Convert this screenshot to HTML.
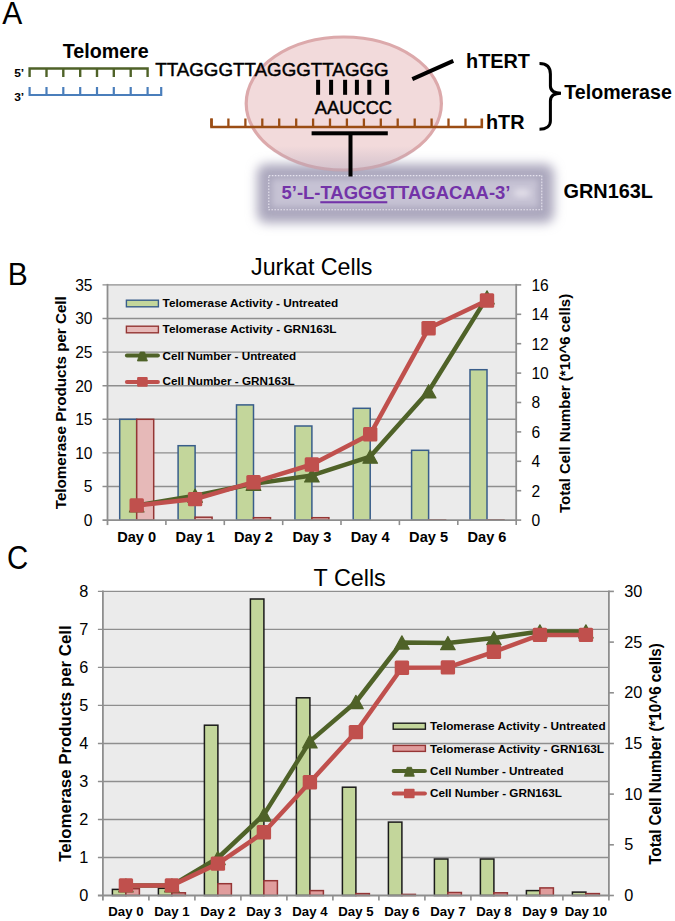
<!DOCTYPE html><html><head><meta charset="utf-8"><style>html,body{margin:0;padding:0;background:#fff;}svg{display:block;}</style></head><body>
<svg width="675" height="921" viewBox="0 0 675 921" font-family='"Liberation Sans", sans-serif'>
<rect width="675" height="921" fill="#fff"/>
<text transform="translate(2.2,24.0) scale(1,1.06)" font-size="30">A</text>
<text x="62.7" y="58.0" font-size="19.5" font-weight="bold" text-anchor="start" fill="#000" textLength="86.0" lengthAdjust="spacingAndGlyphs">Telomere</text>
<text x="14.2" y="76.8" font-size="11" font-weight="bold" text-anchor="start" fill="#000" textLength="10.0" lengthAdjust="spacingAndGlyphs">5’</text>
<text x="14.2" y="100.6" font-size="11" font-weight="bold" text-anchor="start" fill="#000" textLength="10.0" lengthAdjust="spacingAndGlyphs">3’</text>
<path d="M29.6,77 V68.5 H147.6 V77" fill="none" stroke="#4f6228" stroke-width="2.4"/>
<line x1="46.5" y1="68.5" x2="46.5" y2="77" stroke="#4f6228" stroke-width="2.4"/>
<line x1="63.3" y1="68.5" x2="63.3" y2="77" stroke="#4f6228" stroke-width="2.4"/>
<line x1="80.2" y1="68.5" x2="80.2" y2="77" stroke="#4f6228" stroke-width="2.4"/>
<line x1="97.0" y1="68.5" x2="97.0" y2="77" stroke="#4f6228" stroke-width="2.4"/>
<line x1="113.8" y1="68.5" x2="113.8" y2="77" stroke="#4f6228" stroke-width="2.4"/>
<line x1="130.7" y1="68.5" x2="130.7" y2="77" stroke="#4f6228" stroke-width="2.4"/>
<path d="M29.6,87 V95 H161.2 V87" fill="none" stroke="#4a7ebb" stroke-width="2.2"/>
<line x1="46.5" y1="87" x2="46.5" y2="95" stroke="#4a7ebb" stroke-width="2.2"/>
<line x1="63.3" y1="87" x2="63.3" y2="95" stroke="#4a7ebb" stroke-width="2.2"/>
<line x1="80.2" y1="87" x2="80.2" y2="95" stroke="#4a7ebb" stroke-width="2.2"/>
<line x1="97.0" y1="87" x2="97.0" y2="95" stroke="#4a7ebb" stroke-width="2.2"/>
<line x1="113.8" y1="87" x2="113.8" y2="95" stroke="#4a7ebb" stroke-width="2.2"/>
<line x1="130.7" y1="87" x2="130.7" y2="95" stroke="#4a7ebb" stroke-width="2.2"/>
<line x1="147.6" y1="87" x2="147.6" y2="95" stroke="#4a7ebb" stroke-width="2.2"/>
<defs><filter id="blur" x="-20%" y="-50%" width="140%" height="200%"><feGaussianBlur stdDeviation="5.2"/></filter><filter id="blur2" x="-20%" y="-50%" width="140%" height="200%"><feGaussianBlur stdDeviation="3"/></filter></defs>
<rect x="257" y="164" width="297" height="59" rx="9" fill="#aba7bd" filter="url(#blur)"/>
<rect x="272" y="179" width="266" height="28" fill="#c6c2d4" filter="url(#blur2)"/>
<ellipse cx="522" cy="193" rx="9" ry="4" fill="#eeebf2" opacity="0.75" filter="url(#blur2)"/>
<rect x="268.8" y="175.6" width="273" height="34.2" fill="none" stroke="#e6e3ee" stroke-width="1.1" stroke-dasharray="1.6,1.4"/>
<ellipse cx="343.8" cy="103.5" rx="97.6" ry="66.5" fill="#f2dadb" stroke="#dca9ab" stroke-width="3.2"/>
<clipPath id="ec"><ellipse cx="343.8" cy="103.5" rx="99.5" ry="68.5"/></clipPath>
<linearGradient id="eg" x1="0" y1="0" x2="0" y2="1"><stop offset="0" stop-color="#a8a0b8" stop-opacity="0"/><stop offset="1" stop-color="#a8a0b8" stop-opacity="0.45"/></linearGradient>
<rect x="240" y="146" width="210" height="26" fill="url(#eg)" clip-path="url(#ec)"/>
<text x="155.2" y="75.6" font-size="18.6" text-anchor="start" fill="#000" textLength="233.5" lengthAdjust="spacingAndGlyphs" stroke="#000" stroke-width="0.45">TTAGGGTTAGGGTTAGGG</text>
<rect x="316.1" y="79.8" width="4" height="15" fill="#000"/>
<rect x="329.1" y="79.8" width="4" height="15" fill="#000"/>
<rect x="343.1" y="79.8" width="4" height="15" fill="#000"/>
<rect x="354.9" y="79.8" width="4" height="15" fill="#000"/>
<rect x="367.3" y="79.8" width="4" height="15" fill="#000"/>
<rect x="385.1" y="79.8" width="4" height="15" fill="#000"/>
<text x="314.8" y="113.6" font-size="18.4" text-anchor="start" fill="#000" textLength="77.3" lengthAdjust="spacingAndGlyphs" stroke="#000" stroke-width="0.45">AAUCCC</text>
<path d="M211.5,118.5 V127 H481.8 V118.5" fill="none" stroke="#9b4d14" stroke-width="2.6"/>
<line x1="211.5" y1="118.5" x2="211.5" y2="127" stroke="#9b4d14" stroke-width="2.3"/>
<line x1="228.4" y1="118.5" x2="228.4" y2="127" stroke="#9b4d14" stroke-width="2.3"/>
<line x1="245.4" y1="118.5" x2="245.4" y2="127" stroke="#9b4d14" stroke-width="2.3"/>
<line x1="262.3" y1="118.5" x2="262.3" y2="127" stroke="#9b4d14" stroke-width="2.3"/>
<line x1="279.2" y1="118.5" x2="279.2" y2="127" stroke="#9b4d14" stroke-width="2.3"/>
<line x1="296.2" y1="118.5" x2="296.2" y2="127" stroke="#9b4d14" stroke-width="2.3"/>
<line x1="313.1" y1="118.5" x2="313.1" y2="127" stroke="#9b4d14" stroke-width="2.3"/>
<line x1="330.0" y1="118.5" x2="330.0" y2="127" stroke="#9b4d14" stroke-width="2.3"/>
<line x1="346.9" y1="118.5" x2="346.9" y2="127" stroke="#9b4d14" stroke-width="2.3"/>
<line x1="363.9" y1="118.5" x2="363.9" y2="127" stroke="#9b4d14" stroke-width="2.3"/>
<line x1="380.8" y1="118.5" x2="380.8" y2="127" stroke="#9b4d14" stroke-width="2.3"/>
<line x1="397.7" y1="118.5" x2="397.7" y2="127" stroke="#9b4d14" stroke-width="2.3"/>
<line x1="414.7" y1="118.5" x2="414.7" y2="127" stroke="#9b4d14" stroke-width="2.3"/>
<line x1="431.6" y1="118.5" x2="431.6" y2="127" stroke="#9b4d14" stroke-width="2.3"/>
<line x1="448.5" y1="118.5" x2="448.5" y2="127" stroke="#9b4d14" stroke-width="2.3"/>
<line x1="465.5" y1="118.5" x2="465.5" y2="127" stroke="#9b4d14" stroke-width="2.3"/>
<rect x="311.6" y="131.3" width="76.2" height="4" fill="#000"/>
<rect x="348.5" y="133" width="4" height="43.5" fill="#000"/>
<line x1="412.3" y1="79.1" x2="453.3" y2="60.9" stroke="#000" stroke-width="4"/>
<text x="466.0" y="68.0" font-size="19.5" font-weight="bold" text-anchor="start" fill="#000" textLength="64.0" lengthAdjust="spacingAndGlyphs">hTERT</text>
<text x="486.0" y="128.9" font-size="19.5" font-weight="bold" text-anchor="start" fill="#000" textLength="38.5" lengthAdjust="spacingAndGlyphs">hTR</text>
<path d="M539.5,63.5 C546,63.5 550.4,66 550.4,74 L550.4,86 C550.4,91 554,93.2 561,93.2 C554,93.2 550.4,96 550.4,101 L550.4,121 C550.4,126 546,129.2 539.5,129.2" fill="none" stroke="#000" stroke-width="3"/>
<text x="564.3" y="99.2" font-size="19.5" font-weight="bold" text-anchor="start" fill="#000" textLength="107.5" lengthAdjust="spacingAndGlyphs">Telomerase</text>
<text x="281.5" y="199.4" font-size="18.4" font-weight="bold" text-anchor="start" fill="#7333a8" textLength="229.0" lengthAdjust="spacingAndGlyphs">5’-L-TAGGGTTAGACAA-3’</text>
<rect x="320.3" y="201.2" width="67" height="2.1" fill="#7333a8"/>
<text x="563.5" y="198.0" font-size="20" font-weight="bold" text-anchor="start" fill="#000" textLength="89.5" lengthAdjust="spacingAndGlyphs">GRN163L</text>
<text transform="translate(7.8,285.3) scale(1,1.045)" font-size="30">B</text>
<rect x="107.5" y="284.9" width="408.70000000000005" height="235.20000000000005" fill="#ebebeb"/>
<line x1="102.5" y1="486.5" x2="516.2" y2="486.5" stroke="#8e8e8e" stroke-width="1.4"/>
<line x1="102.5" y1="452.9" x2="516.2" y2="452.9" stroke="#8e8e8e" stroke-width="1.4"/>
<line x1="102.5" y1="419.3" x2="516.2" y2="419.3" stroke="#8e8e8e" stroke-width="1.4"/>
<line x1="102.5" y1="385.7" x2="516.2" y2="385.7" stroke="#8e8e8e" stroke-width="1.4"/>
<line x1="102.5" y1="352.1" x2="516.2" y2="352.1" stroke="#8e8e8e" stroke-width="1.4"/>
<line x1="102.5" y1="318.5" x2="516.2" y2="318.5" stroke="#8e8e8e" stroke-width="1.4"/>
<line x1="102.5" y1="284.9" x2="516.2" y2="284.9" stroke="#8e8e8e" stroke-width="1.4"/>
<line x1="107.5" y1="283.9" x2="107.5" y2="525.1" stroke="#8e8e8e" stroke-width="1.8"/>
<line x1="516.2" y1="283.9" x2="516.2" y2="521.1" stroke="#8e8e8e" stroke-width="1.8"/>
<line x1="165.9" y1="520.1" x2="165.9" y2="525.1" stroke="#8e8e8e" stroke-width="1.6"/>
<line x1="224.3" y1="520.1" x2="224.3" y2="525.1" stroke="#8e8e8e" stroke-width="1.6"/>
<line x1="282.7" y1="520.1" x2="282.7" y2="525.1" stroke="#8e8e8e" stroke-width="1.6"/>
<line x1="341.0" y1="520.1" x2="341.0" y2="525.1" stroke="#8e8e8e" stroke-width="1.6"/>
<line x1="399.4" y1="520.1" x2="399.4" y2="525.1" stroke="#8e8e8e" stroke-width="1.6"/>
<line x1="457.8" y1="520.1" x2="457.8" y2="525.1" stroke="#8e8e8e" stroke-width="1.6"/>
<line x1="516.2" y1="520.1" x2="516.2" y2="525.1" stroke="#8e8e8e" stroke-width="1.6"/>
<line x1="516.2" y1="520.1" x2="521.2" y2="520.1" stroke="#8e8e8e" stroke-width="1.6"/>
<line x1="516.2" y1="490.7" x2="521.2" y2="490.7" stroke="#8e8e8e" stroke-width="1.6"/>
<line x1="516.2" y1="461.3" x2="521.2" y2="461.3" stroke="#8e8e8e" stroke-width="1.6"/>
<line x1="516.2" y1="431.9" x2="521.2" y2="431.9" stroke="#8e8e8e" stroke-width="1.6"/>
<line x1="516.2" y1="402.5" x2="521.2" y2="402.5" stroke="#8e8e8e" stroke-width="1.6"/>
<line x1="516.2" y1="373.1" x2="521.2" y2="373.1" stroke="#8e8e8e" stroke-width="1.6"/>
<line x1="516.2" y1="343.7" x2="521.2" y2="343.7" stroke="#8e8e8e" stroke-width="1.6"/>
<line x1="516.2" y1="314.3" x2="521.2" y2="314.3" stroke="#8e8e8e" stroke-width="1.6"/>
<line x1="516.2" y1="284.9" x2="521.2" y2="284.9" stroke="#8e8e8e" stroke-width="1.6"/>
<text transform="translate(92.5,525.91) scale(1,1.1)" font-size="15.6" text-anchor="end">0</text>
<text transform="translate(92.5,492.31) scale(1,1.1)" font-size="15.6" text-anchor="end">5</text>
<text transform="translate(92.5,458.71) scale(1,1.1)" font-size="15.6" text-anchor="end">10</text>
<text transform="translate(92.5,425.11) scale(1,1.1)" font-size="15.6" text-anchor="end">15</text>
<text transform="translate(92.5,391.51) scale(1,1.1)" font-size="15.6" text-anchor="end">20</text>
<text transform="translate(92.5,357.91) scale(1,1.1)" font-size="15.6" text-anchor="end">25</text>
<text transform="translate(92.5,324.31) scale(1,1.1)" font-size="15.6" text-anchor="end">30</text>
<text transform="translate(92.5,290.71) scale(1,1.1)" font-size="15.6" text-anchor="end">35</text>
<text transform="translate(531.4,525.91) scale(1,1.1)" font-size="15.6">0</text>
<text transform="translate(531.4,496.51) scale(1,1.1)" font-size="15.6">2</text>
<text transform="translate(531.4,467.11) scale(1,1.1)" font-size="15.6">4</text>
<text transform="translate(531.4,437.71) scale(1,1.1)" font-size="15.6">6</text>
<text transform="translate(531.4,408.31) scale(1,1.1)" font-size="15.6">8</text>
<text transform="translate(531.4,378.91) scale(1,1.1)" font-size="15.6">10</text>
<text transform="translate(531.4,349.51) scale(1,1.1)" font-size="15.6">12</text>
<text transform="translate(531.4,320.11) scale(1,1.1)" font-size="15.6">14</text>
<text transform="translate(531.4,290.71) scale(1,1.1)" font-size="15.6">16</text>
<rect x="119.7" y="419.3" width="17" height="100.8" fill="#c3d69b" stroke="#385d8a" stroke-width="1.5"/>
<rect x="136.7" y="419.3" width="17" height="100.8" fill="#e6b9b8" stroke="#943634" stroke-width="1.5"/>
<rect x="178.1" y="445.7" width="17" height="74.4" fill="#c3d69b" stroke="#385d8a" stroke-width="1.5"/>
<rect x="195.1" y="517.2" width="17" height="2.9" fill="#e6b9b8" stroke="#943634" stroke-width="1.5"/>
<rect x="236.5" y="404.9" width="17" height="115.2" fill="#c3d69b" stroke="#385d8a" stroke-width="1.5"/>
<rect x="253.5" y="517.7" width="17" height="2.4" fill="#e6b9b8" stroke="#943634" stroke-width="1.5"/>
<rect x="294.9" y="426.0" width="17" height="94.1" fill="#c3d69b" stroke="#385d8a" stroke-width="1.5"/>
<rect x="311.9" y="517.7" width="17" height="2.4" fill="#e6b9b8" stroke="#943634" stroke-width="1.5"/>
<rect x="353.2" y="408.3" width="17" height="111.8" fill="#c3d69b" stroke="#385d8a" stroke-width="1.5"/>
<rect x="370.2" y="520.1" width="17" height="0.0" fill="#e6b9b8" stroke="#943634" stroke-width="1.5"/>
<rect x="411.6" y="450.3" width="17" height="69.8" fill="#c3d69b" stroke="#385d8a" stroke-width="1.5"/>
<rect x="428.6" y="519.9" width="17" height="0.2" fill="#e6b9b8" stroke="#943634" stroke-width="1.5"/>
<rect x="470.0" y="369.7" width="17" height="150.4" fill="#c3d69b" stroke="#385d8a" stroke-width="1.5"/>
<rect x="487.0" y="519.9" width="17" height="0.2" fill="#e6b9b8" stroke="#943634" stroke-width="1.5"/>
<line x1="102.5" y1="520.1" x2="516.2" y2="520.1" stroke="#8e8e8e" stroke-width="1.8"/>
<polyline points="136.7,505.4 195.1,495.7 253.5,483.8 311.9,475.4 370.2,456.6 428.6,391.3 487.0,297.4" fill="none" stroke="#4f6228" stroke-width="4.5" stroke-linejoin="round"/>
<path d="M136.7,498.8 L144.0,512.0 L129.4,512.0 Z" fill="#4f6228" stroke="#4f6228" stroke-width="1.2" stroke-linejoin="round"/>
<path d="M195.1,489.1 L202.4,502.3 L187.8,502.3 Z" fill="#4f6228" stroke="#4f6228" stroke-width="1.2" stroke-linejoin="round"/>
<path d="M253.5,477.2 L260.8,490.4 L246.2,490.4 Z" fill="#4f6228" stroke="#4f6228" stroke-width="1.2" stroke-linejoin="round"/>
<path d="M311.9,468.8 L319.2,482.0 L304.6,482.0 Z" fill="#4f6228" stroke="#4f6228" stroke-width="1.2" stroke-linejoin="round"/>
<path d="M370.2,450.0 L377.5,463.2 L362.9,463.2 Z" fill="#4f6228" stroke="#4f6228" stroke-width="1.2" stroke-linejoin="round"/>
<path d="M428.6,384.7 L435.9,397.9 L421.3,397.9 Z" fill="#4f6228" stroke="#4f6228" stroke-width="1.2" stroke-linejoin="round"/>
<path d="M487.0,290.8 L494.3,304.0 L479.7,304.0 Z" fill="#4f6228" stroke="#4f6228" stroke-width="1.2" stroke-linejoin="round"/>
<polyline points="136.7,505.4 195.1,499.1 253.5,482.2 311.9,464.5 370.2,434.3 428.6,328.3 487.0,300.5" fill="none" stroke="#c0504d" stroke-width="4.5" stroke-linejoin="round"/>
<rect x="129.5" y="498.2" width="14.4" height="14.4" rx="1.5" fill="#c0504d"/>
<rect x="187.9" y="491.9" width="14.4" height="14.4" rx="1.5" fill="#c0504d"/>
<rect x="246.3" y="475.0" width="14.4" height="14.4" rx="1.5" fill="#c0504d"/>
<rect x="304.7" y="457.3" width="14.4" height="14.4" rx="1.5" fill="#c0504d"/>
<rect x="363.0" y="427.1" width="14.4" height="14.4" rx="1.5" fill="#c0504d"/>
<rect x="421.4" y="321.1" width="14.4" height="14.4" rx="1.5" fill="#c0504d"/>
<rect x="479.8" y="293.3" width="14.4" height="14.4" rx="1.5" fill="#c0504d"/>
<text x="136.7" y="542.3" font-size="14.6" font-weight="bold" text-anchor="middle" fill="#000">Day 0</text>
<text x="195.1" y="542.3" font-size="14.6" font-weight="bold" text-anchor="middle" fill="#000">Day 1</text>
<text x="253.5" y="542.3" font-size="14.6" font-weight="bold" text-anchor="middle" fill="#000">Day 2</text>
<text x="311.9" y="542.3" font-size="14.6" font-weight="bold" text-anchor="middle" fill="#000">Day 3</text>
<text x="370.2" y="542.3" font-size="14.6" font-weight="bold" text-anchor="middle" fill="#000">Day 4</text>
<text x="428.6" y="542.3" font-size="14.6" font-weight="bold" text-anchor="middle" fill="#000">Day 5</text>
<text x="487.0" y="542.3" font-size="14.6" font-weight="bold" text-anchor="middle" fill="#000">Day 6</text>
<text x="251.0" y="274.9" font-size="23.4" text-anchor="start" fill="#000" textLength="121.5" lengthAdjust="spacingAndGlyphs">Jurkat Cells</text>
<text transform="translate(66.0,509.2) rotate(-90)" font-size="15.2" font-weight="bold" textLength="213" lengthAdjust="spacingAndGlyphs">Telomerase Products per Cell</text>
<text transform="translate(570.0,513.0) rotate(-90)" font-size="15.2" font-weight="bold" textLength="219.2" lengthAdjust="spacingAndGlyphs">Total Cell Number (*10^6 cells)</text>
<rect x="126.4" y="300.2" width="32" height="6.6" fill="#c3d69b" stroke="#385d8a" stroke-width="1.4"/>
<text x="162.6" y="307.4" font-size="11.6" font-weight="bold" text-anchor="start" fill="#000" textLength="175.6" lengthAdjust="spacingAndGlyphs">Telomerase Activity - Untreated</text>
<rect x="126.4" y="326.2" width="32" height="6.6" fill="#e6b9b8" stroke="#943634" stroke-width="1.4"/>
<text x="162.6" y="333.4" font-size="11.6" font-weight="bold" text-anchor="start" fill="#000" textLength="174.0" lengthAdjust="spacingAndGlyphs">Telomerase Activity - GRN163L</text>
<line x1="126.9" y1="355.6" x2="157.9" y2="355.6" stroke="#4f6228" stroke-width="4" stroke-linecap="round"/>
<path d="M140.2,352.0 L144.6,352.0 L147.4,361.0 L137.4,361.0 Z" fill="#4f6228" stroke="#4f6228" stroke-width="0.8" stroke-linejoin="round"/>
<text x="162.6" y="359.6" font-size="11.6" font-weight="bold" text-anchor="start" fill="#000" textLength="133.6" lengthAdjust="spacingAndGlyphs">Cell Number - Untreated</text>
<line x1="126.9" y1="381.9" x2="157.9" y2="381.9" stroke="#c0504d" stroke-width="4" stroke-linecap="round"/>
<rect x="137.1" y="377.1" width="10.6" height="9.6" rx="1" fill="#c0504d"/>
<text x="162.6" y="385.4" font-size="11.6" font-weight="bold" text-anchor="start" fill="#000" textLength="132.0" lengthAdjust="spacingAndGlyphs">Cell Number - GRN163L</text>
<text transform="translate(7.0,568.6) scale(0.98,1.13)" font-size="30">C</text>
<rect x="102.9" y="591.4" width="506.0" height="304.1" fill="#ebebeb"/>
<line x1="97.9" y1="857.5" x2="608.9" y2="857.5" stroke="#8e8e8e" stroke-width="1.4"/>
<line x1="97.9" y1="819.5" x2="608.9" y2="819.5" stroke="#8e8e8e" stroke-width="1.4"/>
<line x1="97.9" y1="781.5" x2="608.9" y2="781.5" stroke="#8e8e8e" stroke-width="1.4"/>
<line x1="97.9" y1="743.5" x2="608.9" y2="743.5" stroke="#8e8e8e" stroke-width="1.4"/>
<line x1="97.9" y1="705.4" x2="608.9" y2="705.4" stroke="#8e8e8e" stroke-width="1.4"/>
<line x1="97.9" y1="667.4" x2="608.9" y2="667.4" stroke="#8e8e8e" stroke-width="1.4"/>
<line x1="97.9" y1="629.4" x2="608.9" y2="629.4" stroke="#8e8e8e" stroke-width="1.4"/>
<line x1="97.9" y1="591.4" x2="608.9" y2="591.4" stroke="#8e8e8e" stroke-width="1.4"/>
<line x1="102.9" y1="590.4" x2="102.9" y2="900.5" stroke="#8e8e8e" stroke-width="1.8"/>
<line x1="608.9" y1="590.4" x2="608.9" y2="896.5" stroke="#8e8e8e" stroke-width="1.8"/>
<line x1="148.9" y1="895.5" x2="148.9" y2="900.5" stroke="#8e8e8e" stroke-width="1.6"/>
<line x1="194.9" y1="895.5" x2="194.9" y2="900.5" stroke="#8e8e8e" stroke-width="1.6"/>
<line x1="240.9" y1="895.5" x2="240.9" y2="900.5" stroke="#8e8e8e" stroke-width="1.6"/>
<line x1="286.9" y1="895.5" x2="286.9" y2="900.5" stroke="#8e8e8e" stroke-width="1.6"/>
<line x1="332.9" y1="895.5" x2="332.9" y2="900.5" stroke="#8e8e8e" stroke-width="1.6"/>
<line x1="378.9" y1="895.5" x2="378.9" y2="900.5" stroke="#8e8e8e" stroke-width="1.6"/>
<line x1="424.9" y1="895.5" x2="424.9" y2="900.5" stroke="#8e8e8e" stroke-width="1.6"/>
<line x1="470.9" y1="895.5" x2="470.9" y2="900.5" stroke="#8e8e8e" stroke-width="1.6"/>
<line x1="516.9" y1="895.5" x2="516.9" y2="900.5" stroke="#8e8e8e" stroke-width="1.6"/>
<line x1="562.9" y1="895.5" x2="562.9" y2="900.5" stroke="#8e8e8e" stroke-width="1.6"/>
<line x1="608.9" y1="895.5" x2="608.9" y2="900.5" stroke="#8e8e8e" stroke-width="1.6"/>
<line x1="608.9" y1="895.5" x2="613.9" y2="895.5" stroke="#8e8e8e" stroke-width="1.6"/>
<line x1="608.9" y1="844.8" x2="613.9" y2="844.8" stroke="#8e8e8e" stroke-width="1.6"/>
<line x1="608.9" y1="794.1" x2="613.9" y2="794.1" stroke="#8e8e8e" stroke-width="1.6"/>
<line x1="608.9" y1="743.5" x2="613.9" y2="743.5" stroke="#8e8e8e" stroke-width="1.6"/>
<line x1="608.9" y1="692.8" x2="613.9" y2="692.8" stroke="#8e8e8e" stroke-width="1.6"/>
<line x1="608.9" y1="642.1" x2="613.9" y2="642.1" stroke="#8e8e8e" stroke-width="1.6"/>
<line x1="608.9" y1="591.4" x2="613.9" y2="591.4" stroke="#8e8e8e" stroke-width="1.6"/>
<text transform="translate(88.3,901.18) scale(1,1.03)" font-size="16.3" text-anchor="end">0</text>
<text transform="translate(88.3,863.16) scale(1,1.03)" font-size="16.3" text-anchor="end">1</text>
<text transform="translate(88.3,825.15) scale(1,1.03)" font-size="16.3" text-anchor="end">2</text>
<text transform="translate(88.3,787.14) scale(1,1.03)" font-size="16.3" text-anchor="end">3</text>
<text transform="translate(88.3,749.13) scale(1,1.03)" font-size="16.3" text-anchor="end">4</text>
<text transform="translate(88.3,711.11) scale(1,1.03)" font-size="16.3" text-anchor="end">5</text>
<text transform="translate(88.3,673.10) scale(1,1.03)" font-size="16.3" text-anchor="end">6</text>
<text transform="translate(88.3,635.09) scale(1,1.03)" font-size="16.3" text-anchor="end">7</text>
<text transform="translate(88.3,597.08) scale(1,1.03)" font-size="16.3" text-anchor="end">8</text>
<text transform="translate(624.3,901.18) scale(1,1.03)" font-size="16.3">0</text>
<text transform="translate(624.3,850.49) scale(1,1.03)" font-size="16.3">5</text>
<text transform="translate(624.3,799.81) scale(1,1.03)" font-size="16.3">10</text>
<text transform="translate(624.3,749.13) scale(1,1.03)" font-size="16.3">15</text>
<text transform="translate(624.3,698.44) scale(1,1.03)" font-size="16.3">20</text>
<text transform="translate(624.3,647.76) scale(1,1.03)" font-size="16.3">25</text>
<text transform="translate(624.3,597.08) scale(1,1.03)" font-size="16.3">30</text>
<rect x="112.4" y="889.4" width="13.5" height="6.1" fill="#c3d69b" stroke="#1a1a1a" stroke-width="1.5"/>
<rect x="125.9" y="888.7" width="13.5" height="6.8" fill="#e09c9c" stroke="#953535" stroke-width="1.5"/>
<rect x="158.4" y="888.3" width="13.5" height="7.2" fill="#c3d69b" stroke="#1a1a1a" stroke-width="1.5"/>
<rect x="171.9" y="892.8" width="13.5" height="2.7" fill="#e09c9c" stroke="#953535" stroke-width="1.5"/>
<rect x="204.4" y="725.2" width="13.5" height="170.3" fill="#c3d69b" stroke="#1a1a1a" stroke-width="1.5"/>
<rect x="217.9" y="883.7" width="13.5" height="11.8" fill="#e09c9c" stroke="#953535" stroke-width="1.5"/>
<rect x="250.4" y="599.0" width="13.5" height="296.5" fill="#c3d69b" stroke="#1a1a1a" stroke-width="1.5"/>
<rect x="263.9" y="880.7" width="13.5" height="14.8" fill="#e09c9c" stroke="#953535" stroke-width="1.5"/>
<rect x="296.4" y="697.8" width="13.5" height="197.7" fill="#c3d69b" stroke="#1a1a1a" stroke-width="1.5"/>
<rect x="309.9" y="890.6" width="13.5" height="4.9" fill="#e09c9c" stroke="#953535" stroke-width="1.5"/>
<rect x="342.4" y="787.2" width="13.5" height="108.3" fill="#c3d69b" stroke="#1a1a1a" stroke-width="1.5"/>
<rect x="355.9" y="893.6" width="13.5" height="1.9" fill="#e09c9c" stroke="#953535" stroke-width="1.5"/>
<rect x="388.4" y="822.1" width="13.5" height="73.4" fill="#c3d69b" stroke="#1a1a1a" stroke-width="1.5"/>
<rect x="401.9" y="894.4" width="13.5" height="1.1" fill="#e09c9c" stroke="#953535" stroke-width="1.5"/>
<rect x="434.4" y="859.0" width="13.5" height="36.5" fill="#c3d69b" stroke="#1a1a1a" stroke-width="1.5"/>
<rect x="447.9" y="892.5" width="13.5" height="3.0" fill="#e09c9c" stroke="#953535" stroke-width="1.5"/>
<rect x="480.4" y="859.0" width="13.5" height="36.5" fill="#c3d69b" stroke="#1a1a1a" stroke-width="1.5"/>
<rect x="493.9" y="892.8" width="13.5" height="2.7" fill="#e09c9c" stroke="#953535" stroke-width="1.5"/>
<rect x="526.4" y="890.6" width="13.5" height="4.9" fill="#c3d69b" stroke="#1a1a1a" stroke-width="1.5"/>
<rect x="539.9" y="887.9" width="13.5" height="7.6" fill="#e09c9c" stroke="#953535" stroke-width="1.5"/>
<rect x="572.4" y="892.1" width="13.5" height="3.4" fill="#c3d69b" stroke="#1a1a1a" stroke-width="1.5"/>
<rect x="585.9" y="893.6" width="13.5" height="1.9" fill="#e09c9c" stroke="#953535" stroke-width="1.5"/>
<line x1="97.9" y1="895.5" x2="608.9" y2="895.5" stroke="#8e8e8e" stroke-width="1.8"/>
<polyline points="125.9,885.4 171.9,885.4 217.9,858.0 263.9,814.6 309.9,741.4 355.9,702.0 401.9,642.5 447.9,643.1 493.9,638.1 539.9,631.4 585.9,631.4" fill="none" stroke="#4f6228" stroke-width="4.5" stroke-linejoin="round"/>
<path d="M125.9,878.8 L133.2,892.0 L118.6,892.0 Z" fill="#4f6228" stroke="#4f6228" stroke-width="1.2" stroke-linejoin="round"/>
<path d="M171.9,878.8 L179.2,892.0 L164.6,892.0 Z" fill="#4f6228" stroke="#4f6228" stroke-width="1.2" stroke-linejoin="round"/>
<path d="M217.9,851.4 L225.2,864.6 L210.6,864.6 Z" fill="#4f6228" stroke="#4f6228" stroke-width="1.2" stroke-linejoin="round"/>
<path d="M263.9,808.0 L271.2,821.2 L256.6,821.2 Z" fill="#4f6228" stroke="#4f6228" stroke-width="1.2" stroke-linejoin="round"/>
<path d="M309.9,734.8 L317.2,748.0 L302.6,748.0 Z" fill="#4f6228" stroke="#4f6228" stroke-width="1.2" stroke-linejoin="round"/>
<path d="M355.9,695.4 L363.2,708.6 L348.6,708.6 Z" fill="#4f6228" stroke="#4f6228" stroke-width="1.2" stroke-linejoin="round"/>
<path d="M401.9,635.9 L409.2,649.1 L394.6,649.1 Z" fill="#4f6228" stroke="#4f6228" stroke-width="1.2" stroke-linejoin="round"/>
<path d="M447.9,636.5 L455.2,649.7 L440.6,649.7 Z" fill="#4f6228" stroke="#4f6228" stroke-width="1.2" stroke-linejoin="round"/>
<path d="M493.9,631.5 L501.2,644.7 L486.6,644.7 Z" fill="#4f6228" stroke="#4f6228" stroke-width="1.2" stroke-linejoin="round"/>
<path d="M539.9,624.8 L547.2,638.0 L532.6,638.0 Z" fill="#4f6228" stroke="#4f6228" stroke-width="1.2" stroke-linejoin="round"/>
<path d="M585.9,624.8 L593.2,638.0 L578.6,638.0 Z" fill="#4f6228" stroke="#4f6228" stroke-width="1.2" stroke-linejoin="round"/>
<polyline points="125.9,885.4 171.9,885.4 217.9,863.6 263.9,832.3 309.9,782.3 355.9,732.1 401.9,667.7 447.9,667.4 493.9,651.8 539.9,634.9 585.9,634.9" fill="none" stroke="#c0504d" stroke-width="4.5" stroke-linejoin="round"/>
<rect x="118.7" y="878.2" width="14.4" height="14.4" rx="1.5" fill="#c0504d"/>
<rect x="164.7" y="878.2" width="14.4" height="14.4" rx="1.5" fill="#c0504d"/>
<rect x="210.7" y="856.4" width="14.4" height="14.4" rx="1.5" fill="#c0504d"/>
<rect x="256.7" y="825.1" width="14.4" height="14.4" rx="1.5" fill="#c0504d"/>
<rect x="302.7" y="775.1" width="14.4" height="14.4" rx="1.5" fill="#c0504d"/>
<rect x="348.7" y="724.9" width="14.4" height="14.4" rx="1.5" fill="#c0504d"/>
<rect x="394.7" y="660.5" width="14.4" height="14.4" rx="1.5" fill="#c0504d"/>
<rect x="440.7" y="660.2" width="14.4" height="14.4" rx="1.5" fill="#c0504d"/>
<rect x="486.7" y="644.6" width="14.4" height="14.4" rx="1.5" fill="#c0504d"/>
<rect x="532.7" y="627.7" width="14.4" height="14.4" rx="1.5" fill="#c0504d"/>
<rect x="578.7" y="627.7" width="14.4" height="14.4" rx="1.5" fill="#c0504d"/>
<text x="125.9" y="915.7" font-size="13.2" font-weight="bold" text-anchor="middle" fill="#000">Day 0</text>
<text x="171.9" y="915.7" font-size="13.2" font-weight="bold" text-anchor="middle" fill="#000">Day 1</text>
<text x="217.9" y="915.7" font-size="13.2" font-weight="bold" text-anchor="middle" fill="#000">Day 2</text>
<text x="263.9" y="915.7" font-size="13.2" font-weight="bold" text-anchor="middle" fill="#000">Day 3</text>
<text x="309.9" y="915.7" font-size="13.2" font-weight="bold" text-anchor="middle" fill="#000">Day 4</text>
<text x="355.9" y="915.7" font-size="13.2" font-weight="bold" text-anchor="middle" fill="#000">Day 5</text>
<text x="401.9" y="915.7" font-size="13.2" font-weight="bold" text-anchor="middle" fill="#000">Day 6</text>
<text x="447.9" y="915.7" font-size="13.2" font-weight="bold" text-anchor="middle" fill="#000">Day 7</text>
<text x="493.9" y="915.7" font-size="13.2" font-weight="bold" text-anchor="middle" fill="#000">Day 8</text>
<text x="539.9" y="915.7" font-size="13.2" font-weight="bold" text-anchor="middle" fill="#000">Day 9</text>
<text x="585.9" y="915.7" font-size="13.2" font-weight="bold" text-anchor="middle" fill="#000">Day 10</text>
<text x="313.6" y="585.8" font-size="23.8" text-anchor="start" fill="#000" textLength="72.2" lengthAdjust="spacingAndGlyphs">T Cells</text>
<text transform="translate(71.2,861.8) rotate(-90)" font-size="17" font-weight="bold" textLength="236.5" lengthAdjust="spacingAndGlyphs">Telomerase Products per Cell</text>
<text transform="translate(661.1,864.8) rotate(-90)" font-size="17" font-weight="bold" textLength="221.5" lengthAdjust="spacingAndGlyphs">Total Cell Number (*10^6 cells)</text>
<rect x="393.2" y="723.2" width="32.2" height="6.0" fill="#c3d69b" stroke="#1a1a1a" stroke-width="1.4"/>
<text x="430.0" y="730.4" font-size="11.6" font-weight="bold" text-anchor="start" fill="#000" textLength="175.6" lengthAdjust="spacingAndGlyphs">Telomerase Activity - Untreated</text>
<rect x="393.2" y="745.4" width="32.2" height="6.0" fill="#e09c9c" stroke="#953535" stroke-width="1.4"/>
<text x="430.0" y="752.6" font-size="11.6" font-weight="bold" text-anchor="start" fill="#000" textLength="174.0" lengthAdjust="spacingAndGlyphs">Telomerase Activity - GRN163L</text>
<line x1="393.7" y1="770.9" x2="424.9" y2="770.9" stroke="#4f6228" stroke-width="4" stroke-linecap="round"/>
<path d="M407.1,767.3 L411.5,767.3 L414.3,776.3 L404.3,776.3 Z" fill="#4f6228" stroke="#4f6228" stroke-width="0.8" stroke-linejoin="round"/>
<text x="430.0" y="774.9" font-size="11.6" font-weight="bold" text-anchor="start" fill="#000" textLength="133.6" lengthAdjust="spacingAndGlyphs">Cell Number - Untreated</text>
<line x1="393.7" y1="793.5" x2="424.9" y2="793.5" stroke="#c0504d" stroke-width="4" stroke-linecap="round"/>
<rect x="404.0" y="788.7" width="10.6" height="9.6" rx="1" fill="#c0504d"/>
<text x="430.0" y="797.0" font-size="11.6" font-weight="bold" text-anchor="start" fill="#000" textLength="132.0" lengthAdjust="spacingAndGlyphs">Cell Number - GRN163L</text>
</svg></body></html>
